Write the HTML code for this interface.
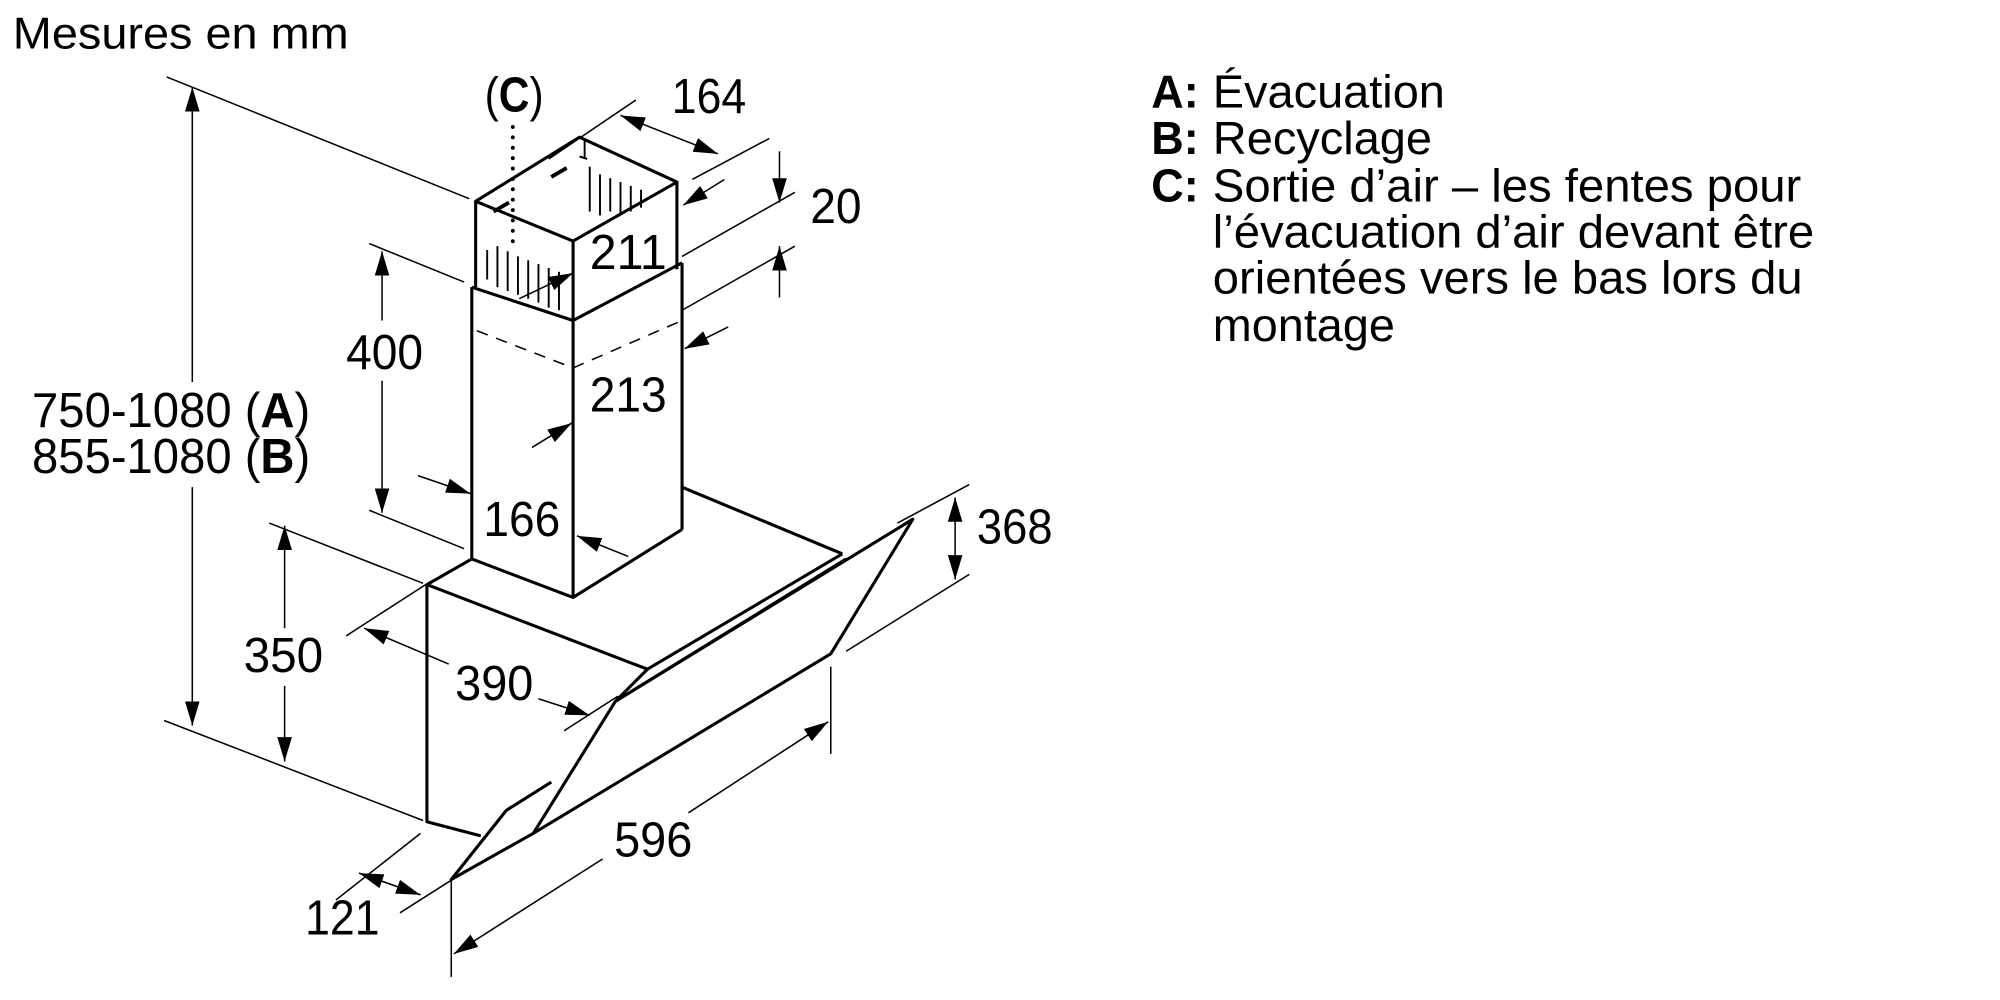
<!DOCTYPE html>
<html><head><meta charset="utf-8"><style>
html,body{margin:0;padding:0;background:#fff;}
svg{display:block;}
text{font-family:"Liberation Sans",Arial,sans-serif;fill:#000;}
</style></head><body>
<svg width="2000" height="1000" viewBox="0 0 1560 780" preserveAspectRatio="none" xmlns="http://www.w3.org/2000/svg">
<defs>
<marker id="a" viewBox="0 0 10 10" refX="10" refY="5" markerWidth="19" markerHeight="19" markerUnits="userSpaceOnUse" orient="auto-start-reverse">
<path d="M0,2 L10,5 L0,8 z" fill="#000"/></marker>
</defs>
<text x="10" y="38" font-size="35" textLength="262" lengthAdjust="spacingAndGlyphs">Mesures en mm</text>

<g font-size="36">
<text x="898" y="84" font-weight="bold" textLength="37" lengthAdjust="spacingAndGlyphs">A:</text><text x="946" y="84" textLength="181" lengthAdjust="spacingAndGlyphs">Évacuation</text>
<text x="898" y="120" font-weight="bold" textLength="37" lengthAdjust="spacingAndGlyphs">B:</text><text x="946" y="120" textLength="171" lengthAdjust="spacingAndGlyphs">Recyclage</text>
<text x="898" y="157" font-weight="bold" textLength="37" lengthAdjust="spacingAndGlyphs">C:</text><text x="946" y="157" textLength="459" lengthAdjust="spacingAndGlyphs">Sortie d’air – les fentes pour</text>
<text x="946" y="193" textLength="469" lengthAdjust="spacingAndGlyphs">l’évacuation d’air devant être</text>
<text x="946" y="229" textLength="460" lengthAdjust="spacingAndGlyphs">orientées vers le bas lors du</text>
<text x="946" y="266" textLength="142" lengthAdjust="spacingAndGlyphs">montage</text>
</g>

<g stroke="#000" fill="none" stroke-width="1.2">
<line x1="130" y1="60" x2="366" y2="155"/>
<line x1="128" y1="562" x2="330" y2="640"/>
<line x1="150" y1="68" x2="150" y2="298" marker-start="url(#a)"/>
<line x1="150" y1="380" x2="150" y2="566" marker-end="url(#a)"/>
<line x1="288" y1="190" x2="362" y2="220"/>
<line x1="288" y1="398" x2="362" y2="428"/>
<line x1="298" y1="196" x2="298" y2="250" marker-start="url(#a)"/>
<line x1="298" y1="297" x2="298" y2="400" marker-end="url(#a)"/>
<line x1="210" y1="408" x2="330" y2="455"/>
<line x1="222" y1="410" x2="222" y2="490" marker-start="url(#a)"/>
<line x1="222" y1="535" x2="222" y2="594" marker-end="url(#a)"/>
<line x1="270" y1="496" x2="332" y2="456"/>
<line x1="440" y1="570" x2="482" y2="543"/>
<line x1="284" y1="490" x2="350" y2="518" marker-start="url(#a)"/>
<line x1="420" y1="545" x2="460" y2="558" marker-end="url(#a)"/>
<line x1="262" y1="702" x2="328" y2="650"/>
<line x1="312" y1="712" x2="356" y2="684"/>
<line x1="280" y1="681" x2="328" y2="698" marker-start="url(#a)" marker-end="url(#a)"/>
<line x1="352" y1="686" x2="352" y2="762"/>
<line x1="648" y1="520" x2="648" y2="588"/>
<line x1="354" y1="744" x2="470" y2="670" marker-start="url(#a)"/>
<line x1="537" y1="634" x2="646" y2="563" marker-end="url(#a)"/>
<line x1="700" y1="408" x2="756" y2="378"/>
<line x1="660" y1="508" x2="756" y2="448"/>
<line x1="745" y1="388" x2="745" y2="452" marker-start="url(#a)" marker-end="url(#a)"/>
<line x1="428" y1="124" x2="496" y2="78"/>
<line x1="540" y1="140" x2="600" y2="108"/>
<line x1="484" y1="90" x2="560" y2="120" marker-start="url(#a)" marker-end="url(#a)"/>
<line x1="532" y1="200" x2="620" y2="150"/>
<line x1="532" y1="242" x2="620" y2="192"/>
<line x1="608" y1="118" x2="608" y2="158" marker-end="url(#a)"/>
<line x1="608" y1="232" x2="608" y2="192" marker-end="url(#a)"/>
<line x1="565" y1="140" x2="533" y2="160" marker-end="url(#a)"/>
<line x1="405" y1="233" x2="447" y2="213" marker-end="url(#a)"/>
<line x1="568" y1="255" x2="534" y2="272" marker-end="url(#a)"/>
<line x1="415" y1="349" x2="446" y2="330" marker-end="url(#a)"/>
<line x1="326" y1="371" x2="367" y2="385" marker-end="url(#a)"/>
<line x1="490" y1="434" x2="450" y2="418" marker-end="url(#a)"/>
</g>

<g stroke="#000" fill="none" stroke-width="2.4" stroke-linejoin="round">
<path d="M371,157 L452,107 L528,142 L447,188 Z"/>
<line x1="371" y1="157" x2="371" y2="224"/>
<line x1="447" y1="188" x2="447" y2="250"/>
<line x1="528" y1="142" x2="528" y2="210"/>
<path d="M368,224 L447,250 L532,205"/>
<line x1="368" y1="224" x2="368" y2="436"/>
<line x1="447" y1="250" x2="447" y2="466"/>
<line x1="532" y1="205" x2="532" y2="413"/>
<path d="M368,436 L447,466 L532,413"/>
<path d="M368,436 L333,456 L333,641 L375,652"/>
<line x1="333" y1="456" x2="505" y2="522"/>
<line x1="532" y1="380" x2="657" y2="432"/>
<path d="M657,432 L505,522 L480,547"/>
<path d="M660,436 L480,547"/>
<path d="M480,547 L712,405 L648,510 L416,650 Z"/>
<path d="M430,610 L395,632 L352,686 L416,650"/>
</g>
<g stroke="#000" stroke-width="1.5">
<line x1="456" y1="110" x2="456" y2="124"/><line x1="452" y1="122" x2="458" y2="124"/>
<path d="M385,165 L397,158" stroke-width="3"/><path d="M430,138 L442,131" stroke-width="3"/>
<line x1="380" y1="195" x2="380" y2="218"/><line x1="388" y1="192" x2="388" y2="224"/>
<line x1="396" y1="196" x2="396" y2="227"/><line x1="404" y1="200" x2="404" y2="230"/>
<line x1="412" y1="203" x2="412" y2="233"/><line x1="420" y1="206" x2="420" y2="236"/>
<line x1="428" y1="209" x2="428" y2="240"/><line x1="436" y1="212" x2="436" y2="242"/>
<line x1="460" y1="130" x2="460" y2="165"/><line x1="468" y1="136" x2="468" y2="168"/>
<line x1="476" y1="139" x2="476" y2="165"/><line x1="484" y1="142" x2="484" y2="168"/>
<line x1="492" y1="145" x2="492" y2="165"/><line x1="500" y1="148" x2="500" y2="162"/>
</g>
<line x1="372" y1="258" x2="447" y2="287" stroke="#000" stroke-width="1.2" stroke-dasharray="9,7"/>
<line x1="447" y1="287" x2="532" y2="250" stroke="#000" stroke-width="1.2" stroke-dasharray="9,7"/>
<line x1="400" y1="99" x2="400" y2="192" stroke="#000" stroke-width="3" stroke-dasharray="0.1,8" stroke-linecap="round"/>

<g font-size="38">
<text x="378" y="87" textLength="46" lengthAdjust="spacingAndGlyphs">(<tspan font-weight="bold">C</tspan>)</text>
<text x="524" y="88" textLength="58" lengthAdjust="spacingAndGlyphs">164</text>
<text x="632" y="174" textLength="40" lengthAdjust="spacingAndGlyphs">20</text>
<text x="460" y="210" textLength="60" lengthAdjust="spacingAndGlyphs">211</text>
<text x="460" y="321" textLength="60" lengthAdjust="spacingAndGlyphs">213</text>
<text x="270" y="288" textLength="60" lengthAdjust="spacingAndGlyphs">400</text>
<text x="25" y="333" textLength="217" lengthAdjust="spacingAndGlyphs">750-1080 (<tspan font-weight="bold">A</tspan>)</text>
<text x="25" y="369" textLength="217" lengthAdjust="spacingAndGlyphs">855-1080 (<tspan font-weight="bold">B</tspan>)</text>
<text x="377" y="418" textLength="60" lengthAdjust="spacingAndGlyphs">166</text>
<text x="762" y="424" textLength="59" lengthAdjust="spacingAndGlyphs">368</text>
<text x="190" y="524" textLength="62" lengthAdjust="spacingAndGlyphs">350</text>
<text x="355" y="546" textLength="61" lengthAdjust="spacingAndGlyphs">390</text>
<text x="479" y="668" textLength="61" lengthAdjust="spacingAndGlyphs">596</text>
<text x="238" y="729" textLength="58" lengthAdjust="spacingAndGlyphs">121</text>
</g>
</svg>
</body></html>
